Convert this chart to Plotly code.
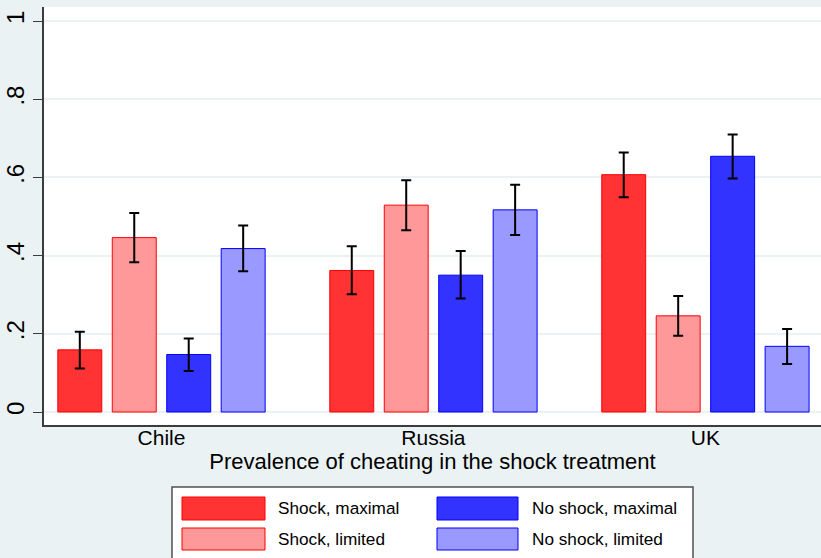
import plotly.graph_objects as go

# ---------------- data ----------------
countries = ["Chile", "Russia", "UK"]
series_names = ["Shock, maximal", "Shock, limited", "No shock, maximal", "No shock, limited"]

shock_max = [0.159, 0.362, 0.607]
shock_lim = [0.446, 0.529, 0.246]
noshock_max = [0.147, 0.350, 0.654]
noshock_lim = [0.418, 0.517, 0.168]

shock_max_hi = [0.205, 0.424, 0.664]
shock_max_lo = [0.111, 0.301, 0.549]
shock_lim_hi = [0.509, 0.593, 0.297]
shock_lim_lo = [0.383, 0.465, 0.195]
noshock_max_hi = [0.188, 0.412, 0.710]
noshock_max_lo = [0.105, 0.290, 0.597]
noshock_lim_hi = [0.477, 0.581, 0.212]
noshock_lim_lo = [0.360, 0.453, 0.123]

y_ticks = [0, 0.2, 0.4, 0.6, 0.8, 1]
y_ticktext = ["0", ".2", ".4", ".6", ".8", "1"]
x_title = "Prevalence of cheating in the shock treatment"

fills = ["rgb(255,51,51)", "rgb(255,153,153)", "rgb(51,51,255)", "rgb(153,153,255)"]
lines = ["rgb(255,0,0)", "rgb(255,0,0)", "rgb(0,0,255)", "rgb(0,0,255)"]

values = [shock_max, shock_lim, noshock_max, noshock_lim]
his = [shock_max_hi, shock_lim_hi, noshock_max_hi, noshock_lim_hi]
los = [shock_max_lo, shock_lim_lo, noshock_max_lo, noshock_lim_lo]

BG = "rgb(234,242,243)"
FONT = "Liberation Sans, Arial, Helvetica, sans-serif"

W, H = 821, 558
ML, MR, MT, MB = 44, 0, 7, 133
PW, PH = W - ML - MR, H - MT - MB


def px2x(px):
    return (px - ML) / PW


def py2y(py):
    return (H - MB - py) / PH


fig = go.Figure()
for name, v, hi, lo, fc, lc in zip(series_names, values, his, los, fills, lines):
    fig.add_trace(go.Bar(
        x=countries, y=v, name=name,
        marker=dict(color=fc, line=dict(color=lc, width=1)),
        error_y=dict(type="data", symmetric=False,
                     array=[h - a for h, a in zip(hi, v)],
                     arrayminus=[a - l for a, l in zip(v, lo)],
                     color="black", thickness=2, width=5),
        showlegend=False,
    ))

# ---------------- custom legend ----------------
shapes = [dict(type="rect", xref="paper", yref="paper",
               x0=px2x(172), x1=px2x(693), y0=py2y(575), y1=py2y(487),
               line=dict(color="rgb(80,80,80)", width=1.5), fillcolor="white", layer="above")]
annotations = []
col_sw = [(182, 265), (437, 518)]
col_tx = [276, 530]
rows = [(497, 520), (528, 550)]
for i, name in enumerate(series_names):
    col = i // 2
    row = i % 2
    shapes.append(dict(type="rect", xref="paper", yref="paper",
                       x0=px2x(col_sw[col][0]), x1=px2x(col_sw[col][1]),
                       y0=py2y(rows[row][1]), y1=py2y(rows[row][0]),
                       fillcolor=fills[i], line=dict(color=lines[i], width=1), layer="above"))
    annotations.append(dict(xref="paper", yref="paper", x=px2x(col_tx[col]),
                            y=py2y((rows[row][0] + rows[row][1]) / 2),
                            text=name, showarrow=False, xanchor="left", yanchor="middle",
                            font=dict(family=FONT, size=17.2, color="black")))

fig.update_layout(
    width=W, height=H,
    margin=dict(l=ML, r=MR, t=MT, b=MB),
    paper_bgcolor=BG, plot_bgcolor="white",
    barmode="group", bargap=0.199, bargroupgap=0.193,
    font=dict(family=FONT, size=21, color="black"),
    shapes=shapes, annotations=annotations,
    xaxis=dict(range=[-0.432, 2.425], showline=True, linecolor="rgb(60,60,60)", linewidth=1.5,
               ticks="", showgrid=False, zeroline=False,
               tickfont=dict(size=21), ticklabelstandoff=-7,
               title=dict(text=x_title, font=dict(size=22), standoff=0)),
    yaxis=dict(range=[-0.0332, 1.0358], tickvals=y_ticks, ticktext=y_ticktext, tickangle=-90,
               ticks="outside", ticklen=9, tickwidth=1.2, tickcolor="rgb(60,60,60)",
               showline=True, linecolor="rgb(60,60,60)", linewidth=1.5,
               showgrid=True, gridcolor=BG, gridwidth=2, zeroline=False,
               tickfont=dict(size=24)),
)

fig.write_html("out.html")
